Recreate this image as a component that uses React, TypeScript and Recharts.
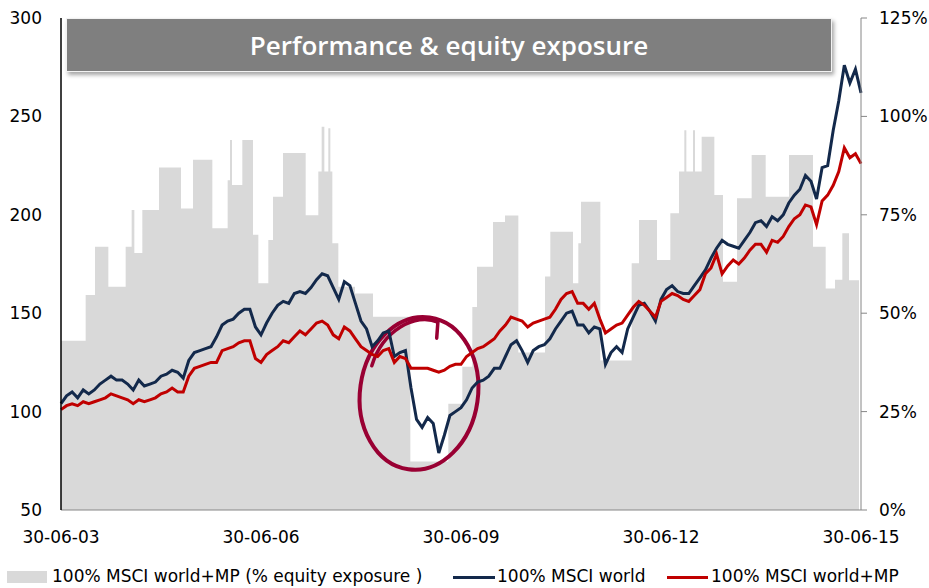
import { ComposedChart, Area, Line, XAxis, YAxis, ReferenceArea } from "recharts";

// monthly closes from 30-06-03 (index 0) to 30-06-15 (index 144), rebased to 100
const START_YEAR = 2003.5;

const msciWorld = [
  104, 108, 110, 107, 111, 109, 111, 114, 116, 118, 116, 116, 114, 111, 116, 113, 114, 115, 118, 119,
  121, 120, 117, 126, 130, 131, 132, 133, 138, 144, 146, 147, 150, 152, 152, 143, 139,
  145, 150, 154, 156, 155, 160, 161, 160, 163, 167, 170, 169, 163, 157, 166, 164, 155, 146, 142,
  133, 136, 140, 141, 128, 130, 131, 112, 96, 92, 97, 94, 79, 88, 98, 100, 102,
  106, 112, 115, 116, 118, 122, 122, 128, 134, 136, 131, 125, 131, 133, 134, 137, 142, 146,
  150, 151, 144, 144, 140, 143, 142, 124, 130, 133, 130, 142, 148, 154, 155, 151, 146, 157,
  162, 164, 161, 160, 160, 164, 168, 172, 178, 183, 187, 185, 184, 183, 187, 191, 196, 197,
  194, 199, 197, 200, 206, 210, 213, 220, 217, 208, 224, 225, 243, 258, 276, 267, 274, 262,
];

const msciWorldMP = [
  101, 103, 104, 103, 105, 104, 105, 106, 107, 109, 108, 107, 106, 104, 106, 105, 106, 107, 109, 110,
  112, 110, 110, 118, 122, 123, 124, 125, 125, 131, 132, 133, 135, 136, 136, 127, 125,
  129, 131, 133, 136, 135, 138, 141, 139, 142, 145, 146, 144, 139, 137, 143, 141, 137, 133, 131,
  129, 128, 131, 132, 125, 128, 127, 122, 122, 122, 122, 121, 120, 121, 123, 124, 124,
  128, 130, 132, 133, 135, 137, 141, 144, 148, 147, 146, 143, 145, 146, 147, 148, 152, 157,
  160, 161, 155, 155, 152, 155, 147, 140, 142, 144, 145, 149, 153, 156, 154, 151, 148, 156,
  158, 160, 159, 157, 156, 159, 162, 170, 173, 180, 170, 174, 177, 175, 178, 182, 185, 185,
  181, 187, 186, 189, 194, 198, 200, 205, 204, 195, 207, 210, 215, 222, 234, 229, 231, 226,
];

// equity exposure (%), each value holds until the next date
const exposureDates = [
  2003.5, 2003.87, 2004.01, 2004.21, 2004.47, 2004.56, 2004.6, 2004.72, 2004.97, 2005.3,
  2005.48, 2005.77, 2006.0, 2006.035, 2006.065, 2006.22, 2006.38, 2006.46, 2006.61, 2006.68,
  2006.83, 2007.17, 2007.36, 2007.41, 2007.45, 2007.51, 2007.54, 2007.57, 2007.66, 2007.91,
  2008.18, 2008.74, 2009.31, 2009.52, 2009.67, 2009.74, 2009.98, 2010.16, 2010.36, 2010.76,
  2010.84, 2011.18, 2011.26, 2011.3, 2011.59, 2012.06, 2012.17, 2012.44, 2012.64, 2012.77,
  2012.85, 2012.88, 2012.98, 2013.01, 2013.11, 2013.3, 2013.43, 2013.64, 2013.86, 2014.07,
  2014.42, 2014.78, 2014.97, 2015.11, 2015.22, 2015.32, 2015.47,
];
const exposurePct = [
  43, 54.6, 66.9, 56.7, 66.9, 76.2, 65.3, 76.2, 87, 76.6,
  89, 71.6, 83.8, 94, 82.6, 94, 69.9, 57.6, 68.6, 79.6,
  90.7, 74.9, 86, 97.4, 86, 97, 86, 67.8, 56.7, 55,
  49.1, 12.3, 27, 36.4, 51.6, 61.8, 73.2, 74.8, 40, 59.3,
  70.7, 57.6, 67.8, 78.3, 38, 62.7, 73.7, 63.5, 75.4, 86,
  96.5, 86, 96.5, 86, 94.8, 80, 58, 79.2, 90.2, 79.6,
  90.2, 66.9, 56.3, 58.5, 70.3, 58.4, 58.4,
];

const xTicks = [2003.5, 2006.5, 2009.5, 2012.5, 2015.5];
const leftTicks = [50, 100, 150, 200, 250, 300];
const rightTicks = [0, 25, 50, 75, 100, 125];

const NAVY = "#13294b";
const RED = "#c00000";
const GREY = "#d9d9d9";
const AXIS_GREY = "#868686";
const FONT = "'DejaVu Sans', Verdana, sans-serif";

type Row = { t: number; world?: number; mp?: number; exp?: number };

const rows: Row[] = [
  ...msciWorld.map((v, i) => ({ t: START_YEAR + i / 12, world: v, mp: msciWorldMP[i] })),
  ...exposureDates.map((t, i) => ({ t, exp: exposurePct[i] })),
].sort((a, b) => a.t - b.t);

const fmtDate = (t: number) => `30-06-${String(Math.floor(t) % 100).padStart(2, "0")}`;

// hand drawn ring around the 2008/09 drawdown
function Ring(props: any) {
  const { x, y, width: w, height: h } = props;
  const cx = x + w / 2;
  const cy = y + h / 2;
  const p = (fx: number, fy: number) => `${x + fx * w},${y + fy * h}`;
  return (
    <g fill="none" stroke="#990033" strokeLinecap="round" strokeLinejoin="round">
      <ellipse cx={cx} cy={cy} rx={w / 2} ry={h / 2} strokeWidth={4} transform={`rotate(8 ${cx} ${cy})`} />
      <path
        d={`M${p(0.1, 0.32)} C${p(0.19, 0.09)} ${p(0.47, -0.03)} ${p(0.66, 0.035)} L${p(0.65, 0.14)}`}
        strokeWidth={3.5}
      />
    </g>
  );
}

const tickStyle = { fill: "#000", fontSize: 17, fontFamily: FONT };

export default function App() {
  return (
    <div style={{ position: "absolute", left: 0, top: 0, width: 929, height: 588, background: "#fff" }}>
      <ComposedChart width={929} height={588} data={rows} margin={{ top: 18, right: 0, bottom: 0, left: 0 }}>
        <Area
          yAxisId="right"
          dataKey="exp"
          type="stepAfter"
          fill={GREY}
          fillOpacity={1}
          stroke="none"
          connectNulls
          isAnimationActive={false}
        />
        <Line
          yAxisId="left"
          dataKey="world"
          stroke={NAVY}
          strokeWidth={3}
          dot={false}
          connectNulls
          isAnimationActive={false}
        />
        <Line
          yAxisId="left"
          dataKey="mp"
          stroke={RED}
          strokeWidth={3}
          dot={false}
          connectNulls
          isAnimationActive={false}
        />
        <ReferenceArea
          yAxisId="left"
          x1={2007.985}
          x2={2009.755}
          y1={70.3}
          y2={148.2}
          ifOverflow="visible"
          shape={Ring}
        />
        <XAxis
          dataKey="t"
          type="number"
          domain={[2003.5, 2015.5]}
          ticks={xTicks}
          tickFormatter={fmtDate}
          axisLine={{ stroke: AXIS_GREY }}
          tickLine={false}
          tickSize={0}
          tickMargin={21}
          height={78}
          tick={tickStyle}
          interval={0}
        />
        <YAxis
          yAxisId="left"
          orientation="left"
          width={61}
          domain={[50, 300]}
          ticks={leftTicks}
          axisLine={{ stroke: "#000", strokeWidth: 1.5 }}
          tickLine={false}
          tickSize={0}
          tickMargin={19}
          tick={tickStyle}
          interval={0}
        />
        <YAxis
          yAxisId="right"
          orientation="right"
          width={68}
          domain={[0, 125]}
          ticks={rightTicks}
          tickFormatter={(v: number) => `${v}%`}
          axisLine={{ stroke: AXIS_GREY }}
          tickLine={{ stroke: AXIS_GREY }}
          tickSize={6}
          tickMargin={12}
          tick={tickStyle}
          interval={0}
        />
      </ComposedChart>

      <div
        style={{
          position: "absolute",
          left: 66,
          top: 18,
          width: 764,
          height: 52,
          background: "#7f7f7f",
          border: "1px solid #f2f2f2",
          boxShadow: "2px 3px 4px rgba(0,0,0,0.35)",
          color: "#fff",
          fontFamily: "'Open Sans', sans-serif",
          fontWeight: 600,
          fontSize: 26,
          display: "flex",
          alignItems: "center",
          justifyContent: "center",
        }}
      >
        Performance &amp; equity exposure
      </div>

      <div style={{ fontFamily: FONT, fontSize: 17, color: "#000" }}>
        <div style={{ position: "absolute", left: 7, top: 571, width: 40, height: 12, background: GREY }} />
        <div style={{ position: "absolute", left: 52, top: 566, whiteSpace: "nowrap" }}>
          100% MSCI world+MP (% equity exposure )
        </div>
        <div style={{ position: "absolute", left: 453, top: 576, width: 42, height: 3, background: NAVY }} />
        <div style={{ position: "absolute", left: 497, top: 566, whiteSpace: "nowrap" }}>100% MSCI world</div>
        <div style={{ position: "absolute", left: 667, top: 576, width: 41, height: 3, background: RED }} />
        <div style={{ position: "absolute", left: 711, top: 566, whiteSpace: "nowrap" }}>100% MSCI world+MP</div>
      </div>
    </div>
  );
}
